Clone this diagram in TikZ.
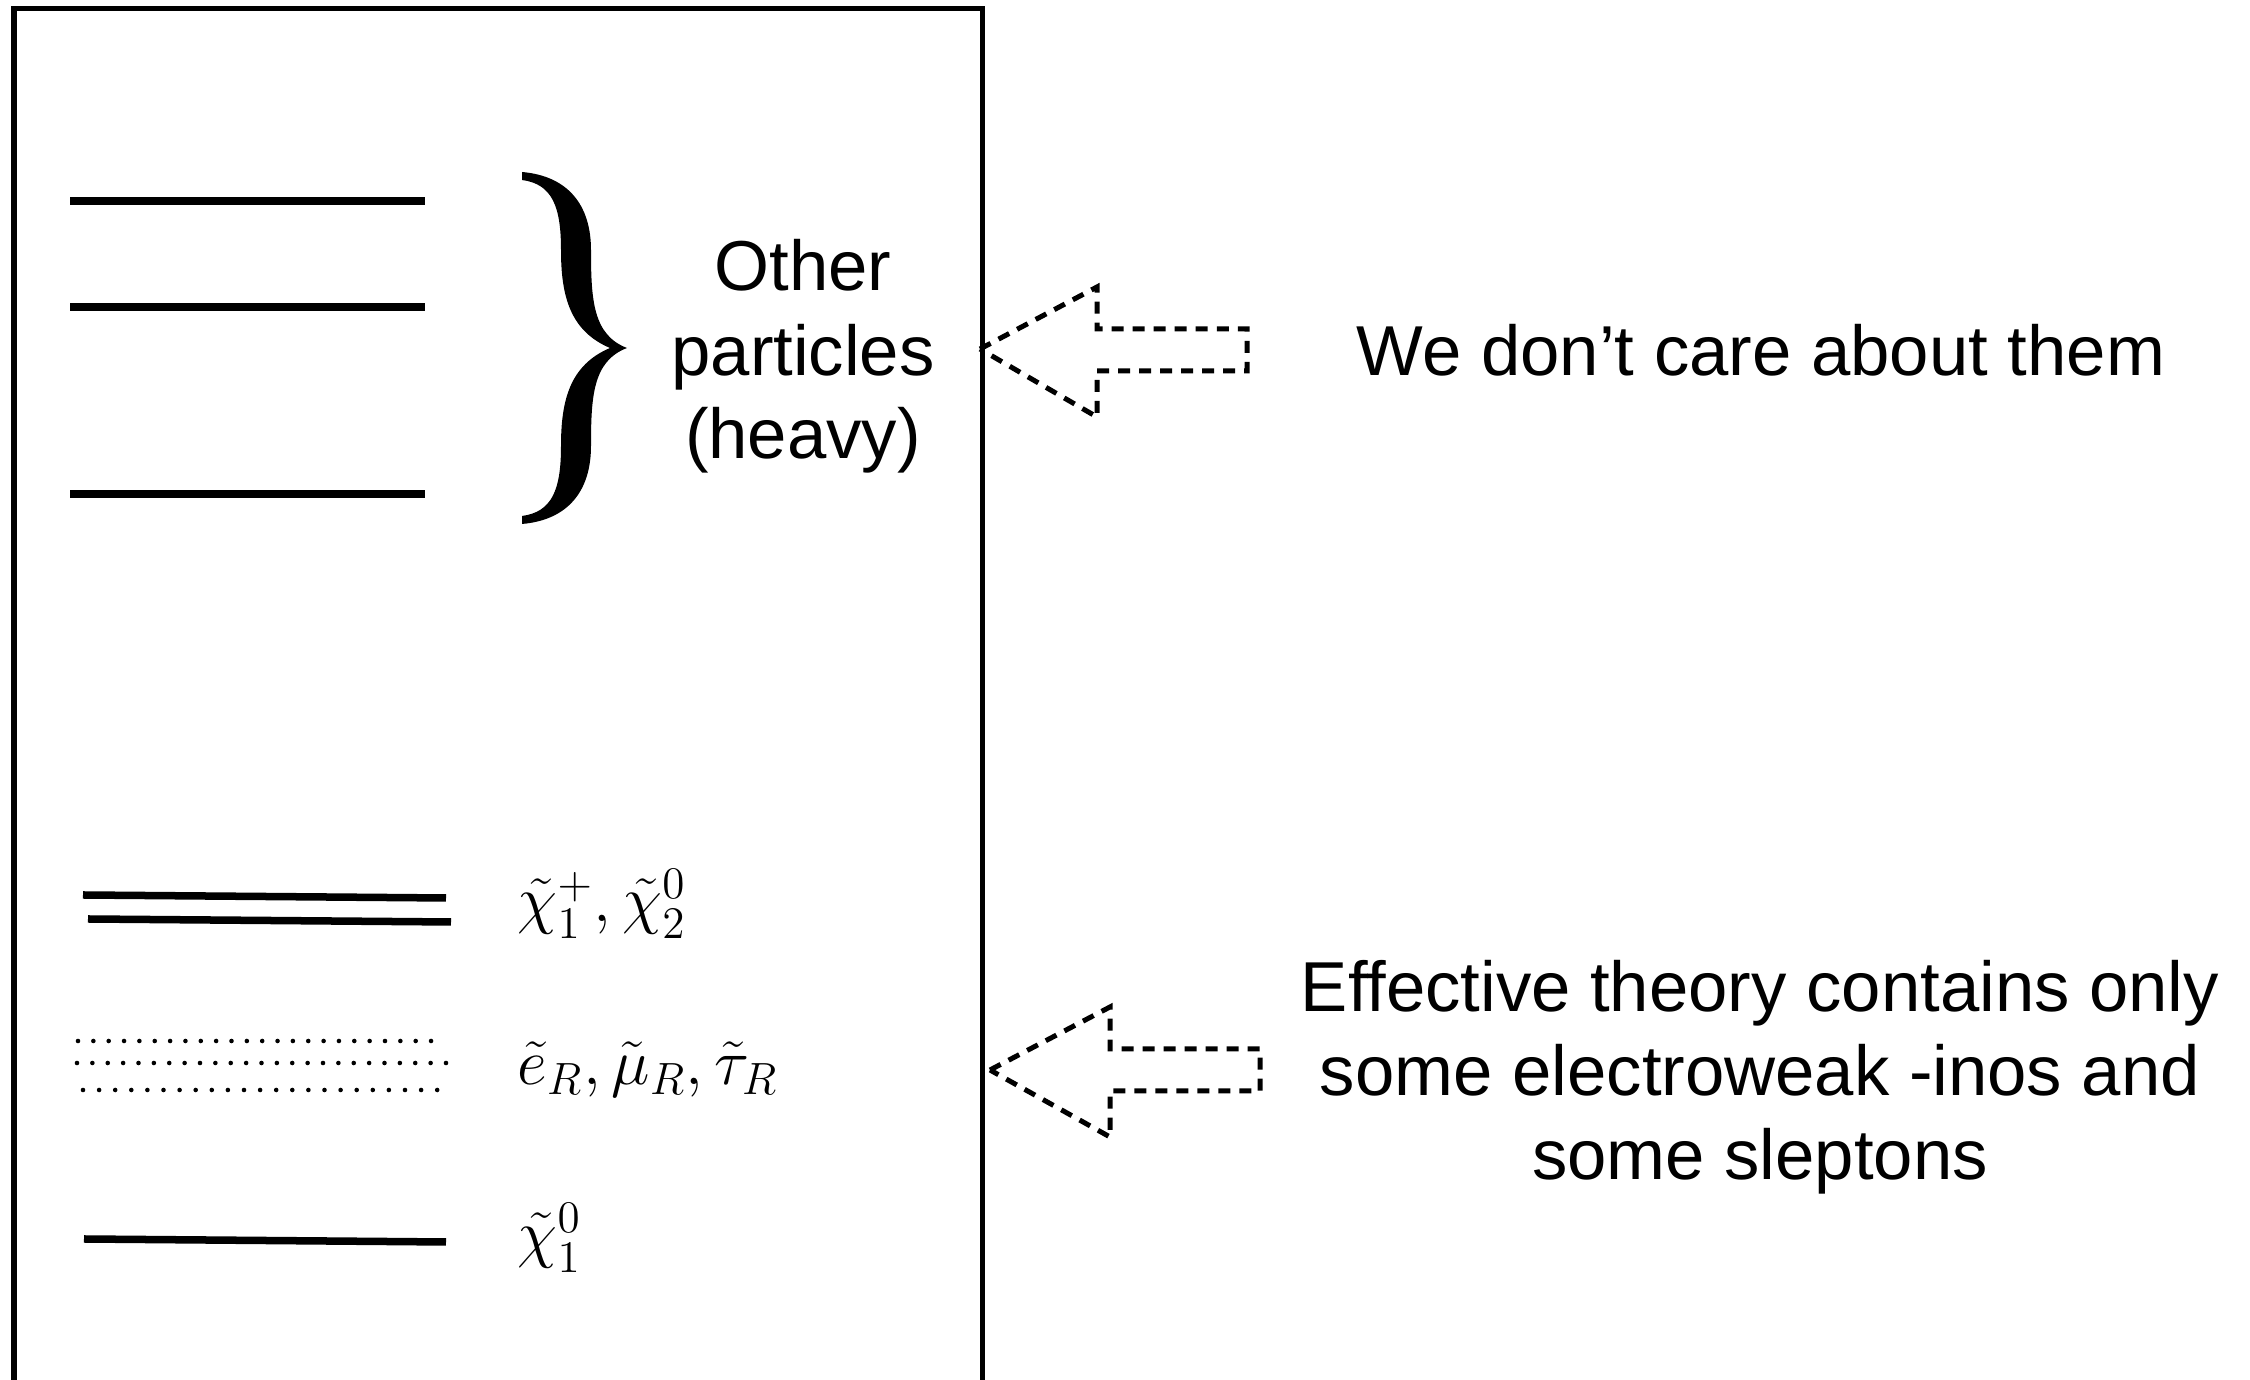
\documentclass[tikz,border=0pt]{standalone}
\usepackage{graphicx}
\usepackage{fontspec}
\setsansfont{Liberation Sans}
\newcommand{\mlabel}[1]{\scalebox{1.0706}{\fontsize{17.28}{20}\selectfont$#1$}}
\tikzset{
  levelline/.style={line width=0.075cm},
  framebox/.style={line width=0.05cm},
  blockarrow/.style={line width=0.05cm, dash pattern=on 0.12cm off 0.09cm, line join=miter},
  sanstext/.style={font=\sffamily\fontsize{20.1}{24.2}\selectfont, inner sep=0pt, anchor=base},
  mathlbl/.style={inner sep=0pt, anchor=base west},
  dot/.style={fill=black},
}
\begin{document}
\begin{tikzpicture}[x=0.01cm,y=-0.01cm]
\useasboundingbox (0,0) rectangle (2250,1380);
% frame (open at the bottom)
\draw[framebox] (14,1395) -- (14,9) -- (982,9) -- (982,1395);
% heavy levels
\draw[levelline] (70,201) -- (425,201);
\draw[levelline] (70,307) -- (425,307);
\draw[levelline] (70,494) -- (425,494);
% light levels
\draw[levelline] (83,895) -- (446,898);
\draw[levelline] (88,919) -- (451,922);
\draw[levelline] (84,1239) -- (446,1242);
% dotted slepton levels
\foreach \i in {0,...,23} \fill[dot] ({78+\i*15.35},1041) circle[radius=0.65pt];
\foreach \i in {0,...,24} \fill[dot] ({77+\i*15.375},1063) circle[radius=0.65pt];
\foreach \i in {0,...,22} \fill[dot] ({83+\i*16.1},1090) circle[radius=0.65pt];
% brace
\fill (522,172) .. controls (568,176) and (591,205) .. (591,250)
  .. controls (591,300) and (593,335) .. (627,348)
  .. controls (593,361) and (591,396) .. (591,446)
  .. controls (591,491) and (568,520) .. (522,524)
  -- (522,516)
  .. controls (552,512) and (561,490) .. (561,446)
  .. controls (561,400) and (570,365) .. (610,348)
  .. controls (570,331) and (561,296) .. (561,250)
  .. controls (561,206) and (552,184) .. (522,180) -- cycle;
% texts
\node[sanstext] (o1) at (803,291) {Other};
\node[sanstext] (o2) at (803,376) {particles};
\node[sanstext] (o3) at (803,459) {(heavy)};
\node[sanstext] (w) at (1761,376) {We don’t care about them};
\node[sanstext] (e1) at (1760,1012) {Effective theory contains only};
\node[sanstext] (e2) at (1760,1096) {some electroweak -inos and};
\node[sanstext] (e3) at (1760,1180) {some sleptons};
% math labels
\node[mathlbl] (c2) at (517,922) {\mlabel{\tilde\chi_1^+,\tilde\chi_2^0}};
\node[mathlbl] (sl) at (517,1085) {\mlabel{\tilde e_R,\tilde\mu_R,\tilde\tau_R}};
\node[mathlbl] (c1) at (517,1256) {\mlabel{\tilde\chi_1^0}};
% dashed block arrows
\draw[blockarrow] (980,349) -- (1097,287) -- (1097,329) -- (1247,329) -- (1247,371) -- (1097,371) -- (1097,417) -- cycle;
\draw[blockarrow] (990,1070) -- (1110,1007) -- (1110,1049) -- (1260,1049) -- (1260,1091) -- (1110,1091) -- (1110,1137) -- cycle;
\end{tikzpicture}
\end{document}
